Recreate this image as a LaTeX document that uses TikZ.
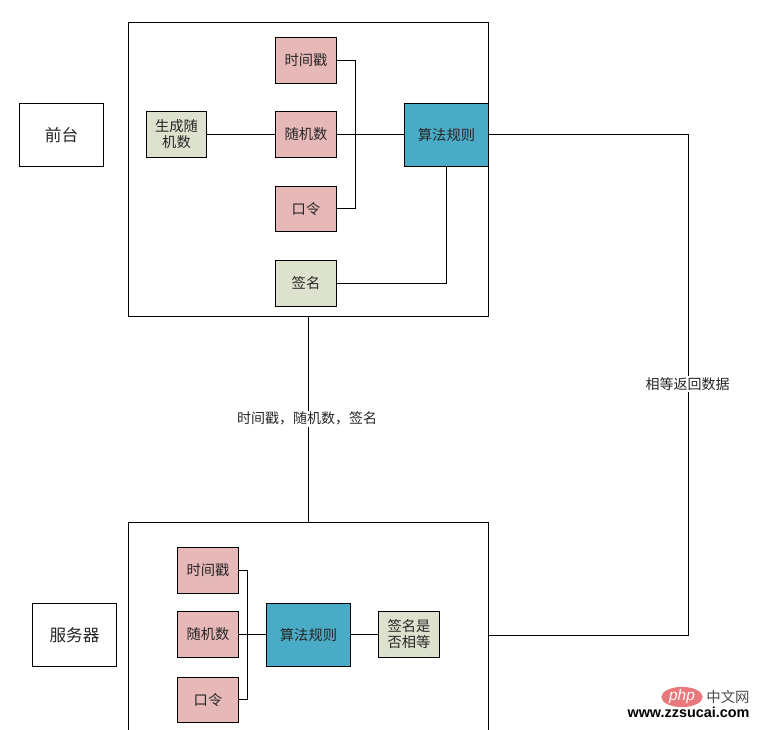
\documentclass[tikz,border=0pt]{standalone}
\usepackage{fontspec}
\setmainfont{Noto Sans CJK SC}
\newfontfamily\latinfont{Liberation Sans}
\usetikzlibrary{calc,shapes.geometric}
\tikzset{
  x=0.75pt,y=-0.75pt,
  box/.style={draw=black,line width=0.8pt,outer sep=0pt,anchor=center,inner sep=0pt,align=center,font=\fontsize{10.7}{13}\selectfont,text=black!85},
  pinkbox/.style={box,fill=pinkc,minimum width=45.75pt,minimum height=34.5pt},
  greenbox/.style={box,fill=greenc,minimum width=45.75pt,minimum height=34.5pt},
  tealbox/.style={box,fill=tealc,minimum width=63pt,minimum height=47.25pt},
  plainbox/.style={box,fill=white,minimum width=63pt,minimum height=47.25pt,font=\fontsize{12.5}{15}\selectfont},
  frame/.style={draw=black,line width=0.8pt,outer sep=0pt,fill=white},
  wire/.style={draw=black,line width=0.8pt},
  lab/.style={fill=white,inner sep=1pt,font=\fontsize{10.5}{13}\selectfont,text=black!85}
}
\definecolor{pinkc}{HTML}{E6B8B7}
\definecolor{greenc}{HTML}{DDE2CE}
\definecolor{tealc}{HTML}{4AABC6}
\definecolor{phpc}{HTML}{E8787C}
\begin{document}
\begin{tikzpicture}
\useasboundingbox (0,0) rectangle (760,729);
\clip (0,0) rectangle (760,729);
% outer frames
\node[frame,minimum width=270pt,minimum height=220.5pt,inner sep=0pt,anchor=north west] (front) at (128.5,22.5) {};
\node[frame,minimum width=270pt,minimum height=190pt,inner sep=0pt,anchor=north west] (server) at (128.5,522.5) {};
\node[plainbox] (qt) at (61.5,135) {前台};
\node[plainbox] (fwq) at (74.5,635) {服务器};
% upper group
\node[pinkbox] (t1) at (306,60.5) {时间戳};
\node[pinkbox] (r1) at (306,134.5) {随机数};
\node[pinkbox,minimum height=33.75pt] (k1) at (306,209) {口令};
\node[greenbox] (s1) at (306,283.5) {签名};
\node[greenbox,minimum width=45pt] (g1) at (176.5,134.5) {生成随\\[-1pt]机数};
\node[tealbox] (a1) at (446.5,135) {算法规则};
% lower group
\node[pinkbox] (t2) at (208,570.5) {时间戳};
\node[pinkbox] (r2) at (208,634.5) {随机数};
\node[pinkbox,minimum height=33.75pt] (k2) at (208,700) {口令};
\node[tealbox] (a2) at (308.5,635) {算法规则};
\node[greenbox] (e2) at (409,634.5) {签名是\\[-1pt]否相等};
% upper connectors
\coordinate (b1) at (355.5,134.5);
\coordinate (k1e) at (336.5,208.5);
\draw[wire] (g1) -- (r1);
\draw[wire] (r1) -- (r1 -| a1.west);
\draw[wire] (t1.east) -| (b1);
\draw[wire] (k1e) -| (b1);
\draw[wire] (s1.east) -| (a1.south);
% lower connectors
\coordinate (b2) at (247.5,634.5);
\coordinate (k2e) at (238.5,699.5);
\draw[wire] (r2) -- (r2 -| a2.west);
\draw[wire] (t2.east) -| (b2);
\draw[wire] (k2e) -| (b2);
\draw[wire] (e2 -| a2.east) -- (e2);
% between frames
\coordinate (c1) at (688.5,134.5);
\coordinate (c2) at (688.5,635.5);
\coordinate (f1) at (308.5,316.5);
\coordinate (f2) at (308.5,522.5);
\coordinate (sv) at (488.5,635.5);
\draw[wire] (c1 -| a1.east) -- (c1) -- (c2) -- (sv);
\draw[wire] (f1) -- (f2);
\node[lab] (l1) at (307,418.5) {时间戳，随机数，签名};
\node[lab] (l2) at (687.5,384) {相等返回数据};
% watermark
\node[fill=phpc,ellipse,minimum width=31pt,minimum height=13pt,inner sep=0pt] (wm) at (682,697) {\latinfont\itshape\fontsize{11.5}{11}\selectfont\textcolor{white}{php}};
\node[font=\fontsize{10.8}{10}\selectfont,text=black!70] (wz) at (728,696.5) {中文网};
\node[font=\latinfont\bfseries\fontsize{10.8}{10}\selectfont,text=black] (wu) at (688.5,712.5) {www.zzsucai.com};
\end{tikzpicture}
\end{document}
